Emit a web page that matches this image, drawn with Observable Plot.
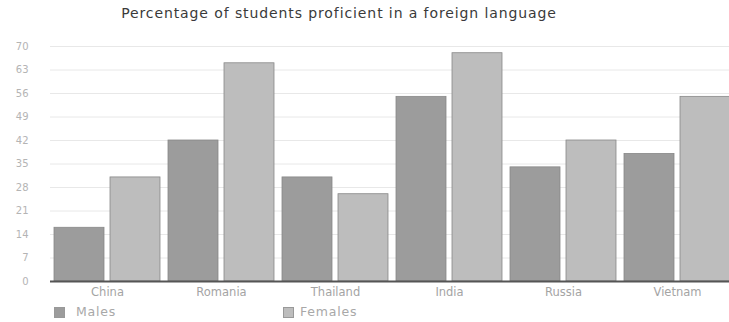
<!DOCTYPE html>
<html>
<head>
<meta charset="utf-8">
<script src="https://cdn.jsdelivr.net/npm/d3@7"></script>
<script src="https://cdn.jsdelivr.net/npm/@observablehq/plot@0.6"></script>
<style>
  body { margin: 0; background: #fff; font-family: "DejaVu Sans", sans-serif; }
  #wrap { position: relative; width: 729px; height: 322px; overflow: hidden; }
  #title { position: absolute; left: 0; top: 5px; width: 678px; text-align: center;
           font-size: 14px; color: #3a3a3a; letter-spacing: 0.9px; }
  #chart { position: absolute; left: 0; top: 28px; }
  .leg { position: absolute; top: 304px; font-size: 12.5px; color: #a8a8a8; letter-spacing: 0.8px; }
  .sw { position: absolute; top: 307px; width: 9px; height: 9px; }
</style>
</head>
<body>
<div id="wrap">
  <div id="title">Percentage of students proficient in a foreign language</div>
  <div id="chart"></div>
</div>
<script>
const countries = ["China", "Romania", "Thailand", "India", "Russia", "Vietnam"];
const series = ["Males", "Females"];
const males = [16, 42, 31, 55, 34, 38];
const females = [31, 65, 26, 68, 42, 55];
const yTicks = [0, 7, 14, 21, 28, 35, 42, 49, 56, 63, 70];
const colors = ["#9c9c9c", "#bdbdbd"];

const data = [];
countries.forEach((c, i) => {
  data.push({country: c, sex: "Males", value: males[i]});
  data.push({country: c, sex: "Females", value: females[i]});
});

const plot = Plot.plot({
  width: 729,
  height: 278,
  marginTop: 18,
  marginBottom: 25,
  marginLeft: 48,
  marginRight: -6,
  style: {fontFamily: "DejaVu Sans, sans-serif", fontSize: "10px", color: "#b4b4b4", background: "transparent", overflow: "visible"},
  fx: {domain: countries, padding: 0, label: null, axis: "bottom", tickSize: 0, tickPadding: 6},
  x: {domain: series, paddingInner: 0.105, paddingOuter: 0.053, axis: null},
  y: {domain: [0, 70], ticks: yTicks, label: null, tickSize: 0, tickPadding: 22},
  color: {domain: series, range: colors},
  marks: [
    Plot.gridY(yTicks, {stroke: "#dedede", strokeOpacity: 0.7}),
    Plot.barY(data, {fx: "country", x: "sex", y: "value", fill: "sex", stroke: "#888", strokeWidth: 0.8, inset: 0}),
    Plot.ruleY([0], {stroke: "#555", strokeWidth: 2})
  ]
});
plot.querySelectorAll('[aria-label="fx-axis tick label"] text').forEach(t => { t.style.fontSize = "11.5px"; t.style.fill = "#a4a4a4"; });
document.getElementById("chart").appendChild(plot);

const wrap = document.getElementById("wrap");
[["Males", 54, 76, colors[0]], ["Females", 283, 300, colors[1]]].forEach(([name, sx, tx, col]) => {
  const sw = document.createElement("div");
  sw.className = "sw"; sw.style.left = sx + "px"; sw.style.background = col; sw.style.border = "1px solid #999";
  wrap.appendChild(sw);
  const t = document.createElement("div");
  t.className = "leg"; t.style.left = tx + "px"; t.textContent = name;
  wrap.appendChild(t);
});
</script>
</body>
</html>
